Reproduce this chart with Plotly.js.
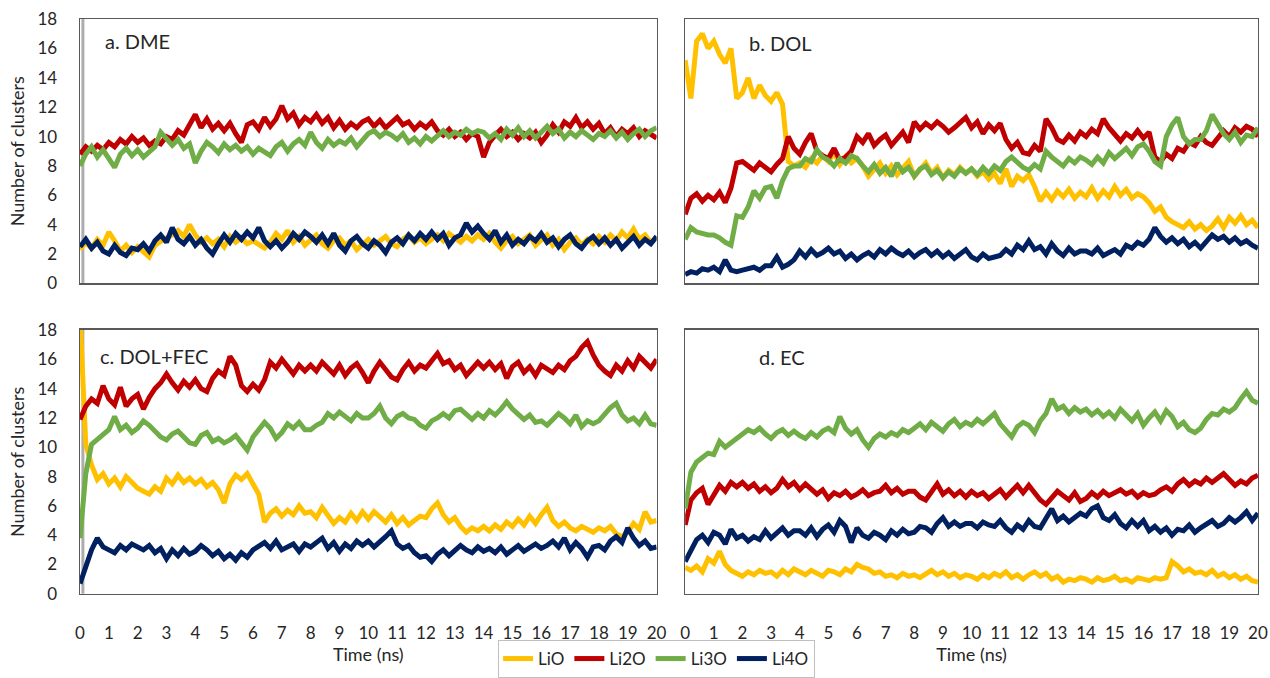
<!DOCTYPE html>
<html>
<head>
<meta charset="utf-8">
<script src="https://cdn.plot.ly/plotly-3.0.1.min.js"></script>
<style>html,body{margin:0;padding:0;background:#fff;}#chart{width:1270px;height:678px;}</style>
</head>
<body>
<div id="chart"></div>
<script>
// Time grid (ns)
const time = [0,0.2,0.4,0.6,0.8,1,1.2,1.4,1.6,1.8,
2,2.2,2.4,2.6,2.8,3,3.2,3.4,3.6,3.8,
4,4.2,4.4,4.6,4.8,5,5.2,5.4,5.6,5.8,
6,6.2,6.4,6.6,6.8,7,7.2,7.4,7.6,7.8,
8,8.2,8.4,8.6,8.8,9,9.2,9.4,9.6,9.8,
10,10.2,10.4,10.6,10.8,11,11.2,11.4,11.6,11.8,
12,12.2,12.4,12.6,12.8,13,13.2,13.4,13.6,13.8,
14,14.2,14.4,14.6,14.8,15,15.2,15.4,15.6,15.8,
16,16.2,16.4,16.6,16.8,17,17.2,17.4,17.6,17.8,
18,18.2,18.4,18.6,18.8,19,19.2,19.4,19.6,19.8,20];

const xTicks = [0,1,2,3,4,5,6,7,8,9,10,11,12,13,14,15,16,17,18,19,20];
const yTicks = [0,2,4,6,8,10,12,14,16,18];
const seriesNames = ['LiO','Li2O','Li3O','Li4O'];
const panelLabels = ['a. DME','b. DOL','c. DOL+FEC','d. EC'];

// a. DME
const dmeLiO = [2.3,2.8,2.4,3.0,2.6,3.5,2.9,2.2,2.6,2.1,
2.5,2.2,1.8,2.6,2.9,3.1,3.3,3.6,3.2,4.0,
3.3,2.8,3.1,2.7,3.0,2.5,3.2,2.8,3.1,2.7,
2.9,2.6,2.4,2.8,3.4,3.0,3.6,2.8,3.2,2.6,
2.9,3.3,2.7,2.4,2.9,3.1,2.6,2.9,2.3,2.7,
3.0,2.6,2.9,3.2,2.7,2.5,3.0,3.3,2.8,3.1,
2.7,3.0,3.3,2.9,3.4,3.1,2.8,3.2,2.9,3.3,
3.0,3.4,2.8,2.4,2.9,3.2,2.7,3.0,3.3,2.6,
2.9,3.3,2.6,3.0,2.3,2.8,3.1,2.6,3.0,2.7,
3.2,2.8,3.3,2.9,3.5,3.1,3.7,3.0,3.3,2.8,3.1];
const dmeLi2O = [8.8,9.3,9.0,9.4,9.1,9.6,9.3,9.8,9.5,10.0,
9.6,9.9,9.4,9.7,9.5,10.0,9.8,10.4,10.1,10.8,
11.5,10.6,11.2,10.5,10.9,10.4,10.9,10.2,9.6,10.8,
11.0,10.5,11.3,10.7,11.2,12.1,11.2,11.6,10.8,11.3,
11.0,11.5,10.9,11.3,10.6,11.1,10.5,10.9,10.6,11.0,
11.2,10.7,11.1,10.6,11.0,11.3,10.8,11.0,10.5,10.9,
10.6,11.0,10.4,10.1,10.5,10.0,10.3,9.8,10.2,10.0,
8.6,9.6,10.1,10.5,10.0,10.3,9.8,10.2,9.9,10.3,
9.6,10.1,10.8,10.3,11.0,10.7,11.3,10.6,11.0,10.5,
10.9,10.2,10.6,10.0,10.5,10.2,10.6,10.0,10.4,10.1,9.9];
const dmeLi3O = [8.0,8.8,9.3,8.6,9.1,8.5,7.9,8.8,9.2,8.7,
9.1,8.6,9.0,9.3,10.3,9.8,9.4,9.8,9.2,9.5,
8.2,9.0,9.6,9.3,8.9,9.5,9.1,9.4,9.0,9.3,
8.8,9.2,8.9,8.7,9.3,9.6,9.0,9.5,9.8,9.4,
10.3,9.6,9.2,9.8,9.4,9.7,9.5,9.9,9.3,9.7,
10.2,10.4,10.0,10.3,10.1,9.8,10.2,9.6,9.9,9.5,
10.0,9.7,10.1,10.4,10.0,10.3,10.1,10.5,10.2,10.4,
10.3,9.9,10.2,9.8,10.5,10.1,10.6,10.0,10.4,9.9,
10.3,10.7,10.2,10.5,9.9,10.3,10.0,10.4,10.1,9.8,
10.2,10.0,10.4,9.9,10.3,9.8,10.2,10.5,10.0,10.4,10.6];
const dmeLi4O = [2.5,3.0,2.4,2.8,2.2,2.0,2.6,2.1,1.9,2.4,
2.3,2.7,2.2,2.9,3.3,2.8,3.8,3.0,2.7,3.2,
2.6,3.0,2.4,2.0,2.7,3.3,2.8,3.4,3.0,3.5,
3.1,3.8,2.9,2.5,2.9,2.4,2.8,3.4,3.0,3.5,
3.2,2.8,3.3,2.7,3.4,2.6,2.2,2.9,3.2,2.7,
2.4,2.9,2.6,2.1,2.8,3.1,2.7,3.3,2.9,3.4,
3.0,3.5,3.0,3.4,2.6,3.1,3.3,4.1,3.5,3.9,
3.4,3.0,3.6,2.8,3.3,2.6,3.0,2.7,3.2,2.9,
3.4,2.8,3.1,2.5,3.0,3.3,2.7,2.4,2.9,3.2,
2.7,3.1,2.6,3.0,2.4,2.8,3.2,2.6,3.0,2.7,3.2];

// b. DOL
const dolLiO = [15.2,12.6,16.5,17.0,16.0,16.5,15.6,15.0,16.0,12.6,
13.0,14.0,12.6,13.5,12.8,12.4,13.0,12.2,8.3,8.0,
8.2,7.9,8.5,8.2,8.7,8.3,8.9,8.1,8.6,8.2,
8.5,8.0,7.3,7.7,8.2,7.5,8.0,7.4,7.9,8.3,
7.3,7.8,8.2,7.5,7.9,7.2,7.7,7.4,7.9,7.5,
7.8,7.3,7.6,7.1,7.5,6.8,7.8,6.6,7.3,7.0,
7.4,6.6,5.6,6.2,5.7,6.3,5.9,6.4,5.8,6.2,
5.9,6.5,5.8,6.3,5.9,6.6,6.0,6.4,5.8,6.1,
5.9,5.5,4.9,5.2,4.5,4.2,4.0,3.8,4.2,3.7,
4.0,3.6,3.9,4.4,3.8,4.5,4.1,4.6,4.0,4.3,3.8];
const dolLi2O = [4.7,5.8,6.1,5.6,6.0,5.7,6.2,5.5,6.5,8.2,
8.3,8.0,7.7,8.2,7.9,7.6,8.1,8.5,10.0,9.2,
8.8,9.6,10.2,9.0,8.7,8.5,9.2,8.4,8.6,9.0,
10.0,9.6,10.2,9.4,9.8,10.1,9.4,9.8,10.3,9.6,
11.0,10.5,10.9,10.6,11.0,10.7,10.3,10.6,10.9,11.3,
10.6,11.0,10.2,10.8,10.4,10.9,9.8,9.2,9.6,8.9,
8.8,9.4,9.0,11.2,10.6,9.8,9.6,10.1,9.7,10.3,
10.0,10.5,10.2,11.2,10.6,10.1,9.7,10.2,9.9,10.4,
9.9,10.3,8.6,8.3,8.8,8.5,9.2,9.0,9.6,9.4,
10.0,9.6,9.4,9.9,10.4,10.0,10.6,10.3,10.7,10.5,10.0];
const dolLi3O = [3.0,3.8,3.5,3.4,3.3,3.3,3.1,2.8,2.6,4.6,
4.5,5.2,6.3,5.8,6.5,6.6,5.8,7.0,7.8,8.0,
8.0,8.5,8.3,9.1,8.6,8.4,8.0,8.5,8.2,8.7,
8.5,8.0,7.6,8.1,7.5,7.9,7.3,8.2,7.6,7.9,
7.3,7.8,8.0,7.4,7.7,7.2,7.6,7.3,7.8,7.5,
7.8,7.4,7.9,7.5,8.0,7.7,8.3,8.6,8.2,7.9,
7.7,8.1,7.8,9.0,8.6,8.3,8.0,8.5,8.2,8.6,
8.4,8.1,8.6,8.2,8.9,8.5,8.8,9.2,8.7,9.3,
9.5,9.0,8.3,8.0,10.0,10.8,11.3,10.0,9.5,9.8,
9.8,10.4,11.5,10.8,10.2,9.8,10.3,9.6,10.1,10.0,10.6];
const dolLi4O = [0.6,0.8,0.7,1.0,0.9,1.1,0.8,1.6,0.9,0.8,
0.9,1.0,1.1,0.9,1.2,1.2,1.8,1.1,1.3,1.6,
2.2,1.8,2.3,1.9,2.1,2.4,2.0,2.2,1.7,2.0,
1.6,1.9,2.1,1.8,2.3,2.0,2.4,2.1,1.9,2.2,
1.8,2.1,2.3,1.9,2.2,1.8,2.1,1.7,2.0,2.3,
1.8,1.6,2.0,1.7,1.8,1.9,2.3,2.0,2.6,2.3,
2.9,2.3,2.5,2.0,2.7,2.2,1.9,2.4,2.0,2.2,
2.2,2.0,2.4,1.9,2.1,2.3,2.0,2.6,2.4,2.8,
2.6,3.0,3.8,3.2,2.8,3.1,2.7,3.0,2.5,2.8,
2.4,2.9,3.3,3.0,3.2,2.8,3.1,2.7,2.9,2.6,2.4];

// c. DOL+FEC
const fecLiO = [19.0,10.2,8.8,7.8,8.2,7.5,7.9,7.3,8.0,7.6,
7.2,7.0,6.8,7.3,7.0,7.9,7.5,8.1,7.6,7.9,
7.5,7.8,7.3,7.6,7.1,6.2,7.5,8.1,7.8,8.2,
7.5,6.8,4.9,5.5,5.8,5.3,5.7,5.4,6.0,5.5,
5.6,5.2,5.9,5.3,4.8,5.2,4.9,5.5,5.0,5.6,
5.1,5.6,5.3,4.9,5.4,4.8,5.2,4.7,5.0,5.3,
5.2,5.8,6.2,5.4,4.9,5.2,4.6,4.2,4.5,4.3,
4.6,4.3,4.7,4.4,4.9,4.6,5.1,4.7,5.3,4.8,
5.4,5.9,5.0,4.6,4.9,4.5,4.3,4.6,4.4,4.2,
4.5,4.3,4.6,4.1,3.9,4.2,4.8,4.4,5.6,4.9,5.0];
const fecLi2O = [11.9,12.8,13.3,13.0,14.2,13.3,12.9,14.1,12.8,13.3,
13.6,12.6,13.4,14.0,14.4,15.0,14.4,13.9,14.5,14.1,
14.6,14.0,13.8,14.7,15.2,14.9,16.2,15.6,14.2,13.8,
14.3,13.9,14.6,15.8,15.4,16.0,15.5,15.0,15.6,15.2,
15.6,15.2,15.8,15.4,15.0,15.6,14.9,15.4,15.7,15.1,
14.4,15.2,15.8,15.3,14.8,14.6,15.3,15.8,15.2,15.6,
15.4,15.9,16.4,15.7,15.9,15.3,15.6,14.9,15.3,15.8,
15.4,15.8,15.3,15.7,14.7,15.5,15.8,15.1,15.5,14.9,
15.6,15.3,15.1,15.6,15.3,15.9,16.2,16.8,17.2,16.3,
15.6,15.2,14.9,15.6,15.2,15.9,15.4,16.2,15.8,15.4,16.0];
const fecLi3O = [3.8,8.2,10.2,10.5,10.8,11.2,12.1,11.2,11.5,11.0,
11.3,11.8,11.5,11.1,10.7,10.5,10.9,11.1,10.7,10.3,
10.2,10.8,11.0,10.4,10.6,10.3,10.5,10.8,10.3,9.8,
10.7,11.2,11.7,11.3,10.6,11.0,11.6,11.3,11.7,11.2,
11.2,11.5,11.7,12.3,12.0,12.4,12.1,11.8,12.3,12.0,
12.0,12.3,12.8,12.0,11.6,12.1,12.3,12.0,11.9,11.5,
11.3,11.8,12.0,12.3,12.0,12.5,12.6,12.2,11.9,12.3,
12.0,12.5,12.2,12.6,13.1,12.6,12.3,11.9,12.2,11.7,
11.8,11.5,11.9,12.3,12.0,11.6,12.2,11.4,11.8,11.6,
11.8,12.3,12.7,13.0,12.2,11.8,12.0,11.6,12.2,11.6,11.5];
const fecLi4O = [0.7,1.8,3.0,3.8,3.2,3.0,2.8,3.3,3.0,3.4,
3.2,3.0,3.3,2.8,3.1,2.4,3.0,2.6,3.1,2.7,
2.9,3.3,3.0,2.6,2.9,2.4,2.7,2.3,2.8,2.5,
3.0,3.3,3.5,3.1,3.6,3.0,3.2,3.4,2.9,3.4,
3.2,3.5,3.8,3.1,3.5,2.9,3.4,3.1,3.6,3.3,
3.6,3.2,3.5,3.9,4.3,3.4,3.1,3.3,2.8,2.5,
2.6,2.2,2.7,3.0,2.6,3.0,3.3,3.0,2.8,3.2,
2.9,3.1,2.8,3.2,2.7,3.0,3.3,2.9,3.2,3.4,
3.1,3.3,3.6,3.2,3.8,3.0,3.5,3.1,2.5,3.2,
3.3,3.0,3.6,3.9,3.5,4.5,3.8,3.3,3.6,3.1,3.2];

// d. EC
const ecLiO = [1.8,1.6,1.9,1.5,2.4,2.1,2.9,2.0,1.6,1.4,
1.2,1.5,1.3,1.6,1.4,1.5,1.2,1.6,1.3,1.7,
1.5,1.3,1.6,1.4,1.2,1.6,1.5,1.3,1.7,1.5,
2.0,1.8,1.7,1.4,1.5,1.2,1.3,1.1,1.4,1.2,
1.3,1.1,1.4,1.6,1.3,1.5,1.2,1.4,1.1,1.3,
1.2,1.0,1.3,1.1,1.4,1.2,1.5,1.1,1.3,1.0,
1.3,1.5,1.2,1.4,1.0,1.2,0.8,1.0,0.9,1.1,
1.0,0.8,1.1,0.9,1.0,1.2,0.9,1.0,0.8,1.1,
1.0,0.9,1.1,1.0,1.1,2.2,1.9,1.5,1.7,1.4,
1.5,1.3,1.6,1.2,1.4,1.1,1.3,1.0,1.2,0.9,0.8];
const ecLi2O = [4.7,6.4,6.9,7.2,6.1,6.8,7.4,7.0,7.6,7.3,
7.6,7.2,7.5,7.0,7.3,6.9,7.2,7.8,7.3,7.6,
7.1,7.5,7.2,6.8,7.1,6.5,6.9,6.7,7.0,6.6,
6.8,7.1,6.7,6.9,7.0,7.4,6.9,7.2,6.8,7.0,
7.0,6.6,6.4,6.9,7.5,6.8,7.1,6.7,7.0,6.6,
7.0,6.7,6.9,6.5,6.8,7.1,6.6,7.0,7.4,6.9,
7.4,6.9,6.4,6.1,6.5,7.0,6.7,6.4,6.9,6.3,
6.5,6.9,6.6,7.0,6.7,6.9,7.1,6.8,7.0,6.6,
6.9,6.7,6.8,7.1,7.3,7.0,7.5,7.8,7.4,7.7,
7.5,7.9,7.6,7.9,8.2,7.8,7.4,7.7,7.5,7.9,8.1];
const ecLi3O = [5.8,8.3,9.0,9.3,9.6,9.5,10.4,10.0,10.3,10.5,
10.8,11.2,11.0,11.3,10.9,10.6,11.0,11.2,10.8,11.1,
10.8,10.6,11.0,10.7,11.1,11.3,11.0,12.1,11.3,10.9,
11.2,10.5,10.0,10.6,10.9,10.7,11.0,10.8,11.2,11.0,
11.3,11.6,11.2,11.7,11.4,11.1,11.6,11.9,11.4,11.7,
11.5,11.9,11.6,12.0,12.3,11.6,11.2,10.7,11.4,11.7,
11.5,11.0,11.8,12.3,13.3,12.6,12.8,12.3,12.7,12.4,
12.6,12.2,12.5,12.1,12.4,12.0,12.6,12.2,11.8,12.3,
11.5,12.0,12.4,11.8,12.5,12.1,11.4,11.7,11.2,11.0,
11.3,11.9,12.3,12.2,12.6,12.4,12.7,13.3,13.8,13.2,13.0];
const ecLi4O = [2.2,3.0,3.7,4.0,3.5,4.2,4.0,3.4,4.4,3.8,
4.0,3.6,3.9,3.7,4.3,3.8,4.2,4.5,4.0,4.3,
4.3,4.0,4.5,3.9,4.4,4.7,4.2,5.0,4.6,3.5,
4.5,4.0,3.8,4.2,4.0,3.7,4.3,4.0,4.4,4.1,
4.2,4.6,4.5,4.2,4.8,5.2,4.6,4.9,4.6,4.8,
4.8,4.5,4.9,4.7,4.6,5.0,4.5,4.2,4.7,4.4,
5.0,4.6,4.5,5.1,5.8,5.0,5.3,4.9,5.2,5.5,
5.3,5.8,6.0,5.2,5.0,5.4,4.8,4.5,5.0,4.6,
5.0,4.3,4.6,4.2,4.5,4.0,4.4,4.3,4.7,4.2,
4.5,4.8,5.0,4.6,4.8,5.2,4.9,5.2,5.6,5.0,5.5];

const colors = ['#FFC000','#C00000','#70AD47','#002060'];
const panels = [
  {series:[dmeLiO,dmeLi2O,dmeLi3O,dmeLi4O], xa:'x',  ya:'y'},
  {series:[dolLiO,dolLi2O,dolLi3O,dolLi4O], xa:'x2', ya:'y2'},
  {series:[fecLiO,fecLi2O,fecLi3O,fecLi4O], xa:'x3', ya:'y3'},
  {series:[ecLiO,ecLi2O,ecLi3O,ecLi4O],     xa:'x4', ya:'y4'}
];

const traces = [];
panels.forEach((p, pi) => {
  p.series.forEach((vals, si) => {
    traces.push({
      type:'scatter', mode:'lines', x: time, y: vals,
      xaxis: p.xa, yaxis: p.ya, name: seriesNames[si],
      legendgroup: seriesNames[si], showlegend: pi === 0,
      line:{color: colors[si], width: 5}, cliponaxis: true,
      hoverinfo:'skip'
    });
  });
});

const FONT = 'Lato, "Liberation Sans", Arial, sans-serif';
const TXT = '#262626';
const frame = {showline:true, mirror:true, linecolor:'#595959', linewidth:1.5, showgrid:false, zeroline:false};

function xAx(domain, anchor, labels){
  return Object.assign({}, frame, {
    domain: domain, anchor: anchor, range:[0,20], tickmode:'array', tickvals:xTicks,
    showticklabels: labels, ticks: labels ? 'outside' : '', ticklen: 23, tickcolor:'rgba(0,0,0,0)',
    tickfont:{family:FONT, size:17, color:TXT},
    title: labels ? {text:'Time (ns)', font:{family:FONT, size:18, color:TXT}, standoff:5} : {text:''}
  });
}
function yAx(domain, anchor, labels){
  return Object.assign({}, frame, {
    domain: domain, anchor: anchor, range:[0,18], tickmode:'array', tickvals:yTicks,
    showticklabels: labels, ticks: labels ? 'outside' : '', ticklen: 18, tickcolor:'rgba(0,0,0,0)',
    tickfont:{family:FONT, size:17, color:TXT},
    title: labels ? {text:'Number of clusters', font:{family:FONT, size:18, color:TXT}, standoff:8} : {text:''}
  });
}

const xL = [0.063, 0.517], xR = [0.5395, 0.9905];
const yT = [0.5693, 0.971], yB = [0.0975, 0.4985];

const annFont = {family:FONT, size:20, color:TXT};
const edge = (xa, ya) => ({type:'line', xref:xa, yref:ya + ' domain', x0:0.1, x1:0.1, y0:0, y1:1,
  line:{color:'#ADADAD', width:3}, layer:'below'});
const layout = {
  width:1270, height:678,
  margin:{l:0, r:0, t:0, b:0},
  paper_bgcolor:'#ffffff', plot_bgcolor:'#ffffff',
  showlegend:true,
  xaxis: xAx(xL,'y',false),  yaxis: yAx(yT,'x',true),
  xaxis2: xAx(xR,'y2',false), yaxis2: yAx(yT,'x2',false),
  xaxis3: xAx(xL,'y3',true),  yaxis3: yAx(yB,'x3',true),
  xaxis4: xAx(xR,'y4',true),  yaxis4: yAx(yB,'x4',false),
  shapes:[edge('x','y'), edge('x3','y3')],
  legend:{orientation:'h', x:0.517, xanchor:'center', y:0.027, yanchor:'top',
    bordercolor:'#BFBFBF', borderwidth:1, bgcolor:'#ffffff',
    font:{family:FONT, size:17, color:TXT}, itemwidth:30, tracegroupgap:0},
  annotations:[
    {text:panelLabels[0], xref:'paper', yref:'paper', x:0.081, y:0.938, xanchor:'left', yanchor:'middle', showarrow:false, font:annFont},
    {text:panelLabels[1], xref:'paper', yref:'paper', x:0.588, y:0.934, xanchor:'left', yanchor:'middle', showarrow:false, font:annFont},
    {text:panelLabels[2], xref:'paper', yref:'paper', x:0.077, y:0.459, xanchor:'left', yanchor:'middle', showarrow:false, font:annFont},
    {text:panelLabels[3], xref:'paper', yref:'paper', x:0.596, y:0.457, xanchor:'left', yanchor:'middle', showarrow:false, font:annFont}
  ]
};

Plotly.newPlot('chart', traces, layout, {displayModeBar:false, staticPlot:true});
</script>
</body>
</html>
